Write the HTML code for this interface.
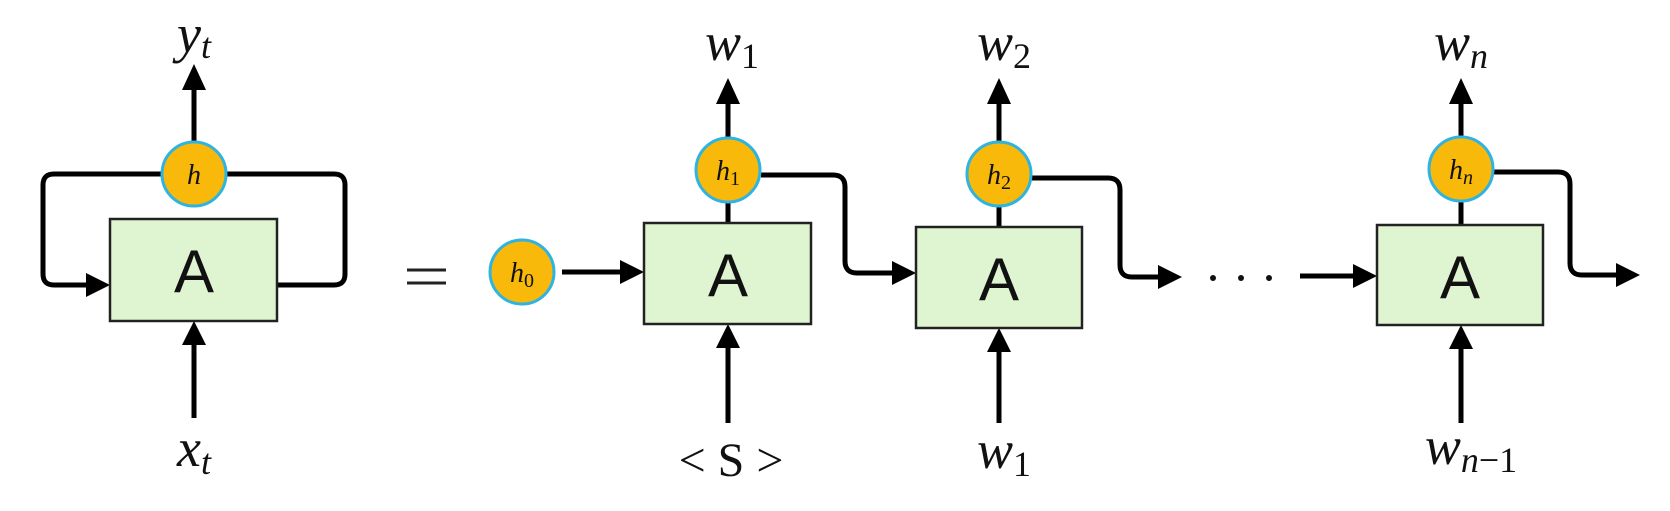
<!DOCTYPE html>
<html><head><meta charset="utf-8"><style>
html,body{margin:0;padding:0;background:#fff}
svg{display:block}
.m{font-family:"Liberation Serif",serif;font-style:italic;fill:#111}
.r{font-family:"Liberation Serif",serif;fill:#111}
.A{font-family:"Liberation Sans",sans-serif;fill:#111;font-size:60px}
</style></head><body>
<svg width="1670" height="511" viewBox="0 0 1670 511" xmlns="http://www.w3.org/2000/svg">
<g fill="none" stroke="#000" stroke-width="5" stroke-linejoin="round">
<path d="M163,174 H54 Q43,174 43,185 V274 Q43,285 54,285 H88"/>
<path d="M225,174 H334 Q345,174 345,185 V274 Q345,285 334,285 H277"/>
<path d="M194,142 V88"/>
<path d="M194,418 V343"/>
<path d="M562,272 H622"/>
<path d="M728,138 V102"/>
<path d="M728,202 V223"/>
<path d="M728,423 V346"/>
<path d="M761,175 H833 Q845,175 845,187 V261 Q845,273 857,273 H894"/>
<path d="M999,142 V102"/>
<path d="M999,206 V227"/>
<path d="M999,423 V350"/>
<path d="M1032,178 H1108 Q1120,178 1120,190 V265 Q1120,277 1132,277 H1160"/>
<path d="M1300,276 H1355"/>
<path d="M1461,137 V102"/>
<path d="M1461,201 V225"/>
<path d="M1461,423 V347"/>
<path d="M1494,172 H1558 Q1570,172 1570,184 V263 Q1570,275 1582,275 H1618"/>
</g>
<g fill="#000">
<polygon points="110,285 86,273 86,297"/>
<polygon points="194,64 182,90 206,90"/>
<polygon points="194,321 182,345 206,345"/>
<polygon points="644,272 620,260 620,284"/>
<polygon points="728,78 716,104 740,104"/>
<polygon points="728,324 716,348 740,348"/>
<polygon points="916,273 892,261 892,285"/>
<polygon points="999,78 987,104 1011,104"/>
<polygon points="999,328 987,352 1011,352"/>
<polygon points="1182,277 1158,265 1158,289"/>
<polygon points="1377,276 1353,264 1353,288"/>
<polygon points="1461,78 1449,104 1473,104"/>
<polygon points="1461,325 1449,349 1473,349"/>
<polygon points="1640,275 1616,263 1616,287"/>
</g>
<g fill="#dff5d2" stroke="#222" stroke-width="2.5">
<rect x="110" y="219" width="167" height="102"/>
<rect x="644" y="223" width="167" height="101"/>
<rect x="916" y="227" width="166" height="101"/>
<rect x="1377" y="225" width="166" height="100"/>
</g>
<g text-anchor="middle">
<text class="A" x="194" y="292">A</text>
<text class="A" x="728" y="296">A</text>
<text class="A" x="999" y="300">A</text>
<text class="A" x="1460" y="298">A</text>
</g>
<g fill="#f8b90a" stroke="#2fb3e0" stroke-width="3">
<circle cx="194" cy="174" r="32"/>
<circle cx="522" cy="272" r="32"/>
<circle cx="728" cy="170" r="32"/>
<circle cx="999" cy="174" r="32"/>
<circle cx="1461" cy="169" r="32"/>
</g>
<g class="m" font-size="28" text-anchor="middle">
<text x="194" y="184">h</text>
<text x="522" y="282">h<tspan font-style="normal" font-size="20" dy="5">0</tspan></text>
<text x="728" y="180">h<tspan font-style="normal" font-size="20" dy="5">1</tspan></text>
<text x="999" y="184">h<tspan font-style="normal" font-size="20" dy="5">2</tspan></text>
<text x="1461" y="179">h<tspan font-size="20" dy="5">n</tspan></text>
</g>
<g class="m" font-size="54" text-anchor="middle">
<text x="194" y="52">y<tspan font-size="36" dy="6">t</tspan></text>
<text x="194" y="466">x<tspan font-size="36" dy="8">t</tspan></text>
<text x="732" y="60">w<tspan font-style="normal" font-size="36" dy="8">1</tspan></text>
<text x="1004" y="60">w<tspan font-style="normal" font-size="36" dy="8">2</tspan></text>
<text x="1461" y="60">w<tspan font-size="36" dy="8">n</tspan></text>
<text x="1004" y="468">w<tspan font-style="normal" font-size="36" dy="8">1</tspan></text>
<text x="1471" y="464">w<tspan font-size="36" dy="8">n</tspan><tspan font-style="normal" font-size="36">−1</tspan></text>
</g>
<text class="r" x="731" y="476" font-size="48" text-anchor="middle">&lt; S &gt;</text>
<g stroke="#222" stroke-width="3"><line x1="407" y1="270" x2="446" y2="270"/><line x1="407" y1="283" x2="446" y2="283"/></g>
<g fill="#111"><circle cx="1213" cy="278" r="3"/><circle cx="1241" cy="278" r="3"/><circle cx="1269" cy="278" r="3"/></g>
</svg>
</body></html>
